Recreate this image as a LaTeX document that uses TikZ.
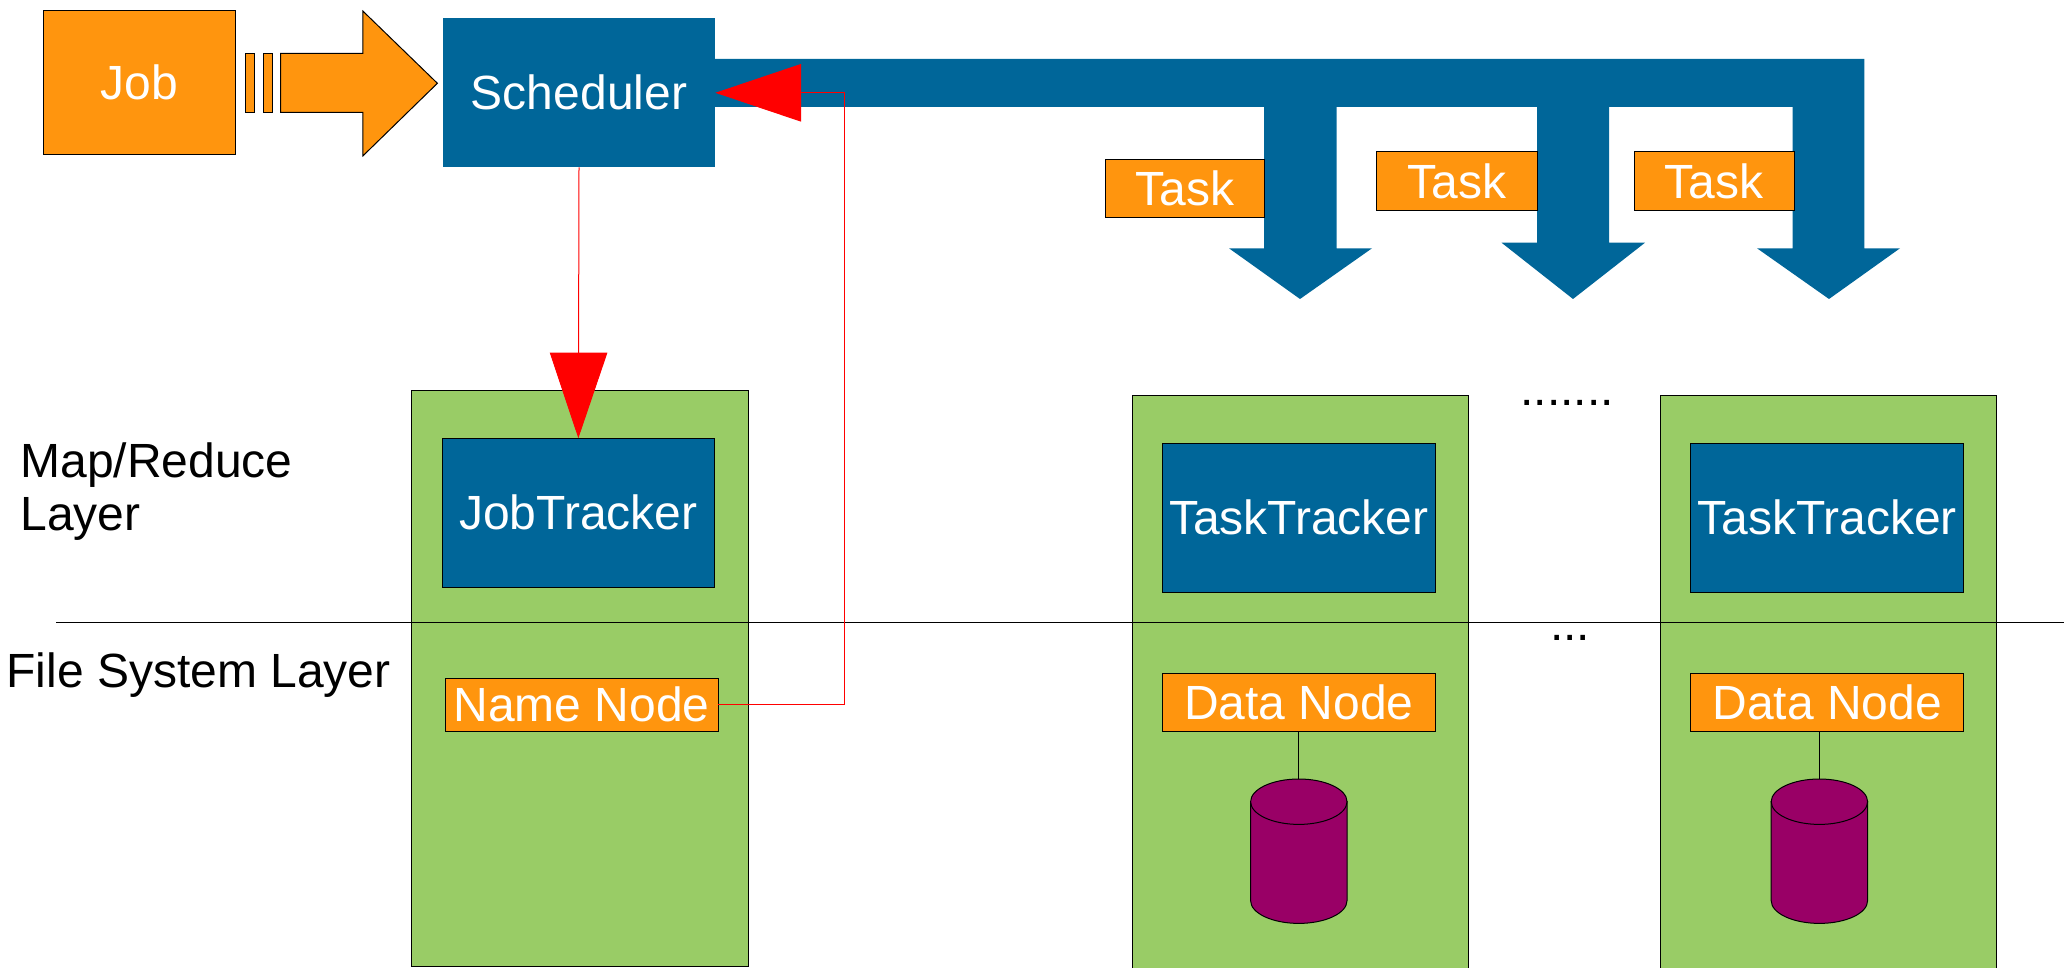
\documentclass[tikz,border=0pt]{standalone}
\usepackage{fontspec}
\setmainfont{Liberation Sans}
\usetikzlibrary{arrows.meta}
\definecolor{jobor}{HTML}{FF950E}
\definecolor{schedblue}{HTML}{006699}
\definecolor{hostgreen}{HTML}{99CC66}
\definecolor{drumpurple}{HTML}{990066}
\tikzset{
  x=1pt,y=-1pt,
  thinline/.style={line width=1pt},
  txt/.style={font=\fontsize{48}{53}\selectfont,inner sep=0pt,outer sep=0pt},
  labelled/.style={txt,text=white,text height=34pt,text depth=0pt,align=center,anchor=center},
  orangebox/.style={labelled,thinline,draw=black,fill=jobor},
  bluebox/.style={labelled,fill=schedblue},
  blueboxb/.style={labelled,thinline,draw=black,fill=schedblue},
  hostbox/.style={thinline,draw=black,fill=hostgreen,inner sep=0pt,outer sep=0pt},
  redlink/.style={line width=1pt,draw=red,-{Triangle[length=85.7pt,width=57.5pt,fill=red]}},
  drum/.pic={
    \draw[thinline,fill=drumpurple] (-48.2,0) -- (-48.2,99)
      .. controls (-48.2,111.5) and (-26.6,121.7) .. (0,121.7)
      .. controls (26.6,121.7) and (48.2,111.5) .. (48.2,99) -- (48.2,0) -- cycle;
    \draw[thinline,fill=drumpurple] (-48.2,0)
      .. controls (-48.2,-12.5) and (-26.6,-22.7) .. (0,-22.7)
      .. controls (26.6,-22.7) and (48.2,-12.5) .. (48.2,0)
      .. controls (48.2,12.5) and (26.6,22.7) .. (0,22.7)
      .. controls (-26.6,22.7) and (-48.2,12.5) .. (-48.2,0) -- cycle;
  }
}
\begin{document}
\begin{tikzpicture}
\useasboundingbox (0,0) rectangle (2064,968);
% host boxes
\node[hostbox,minimum width=336.4pt,minimum height=576.3pt] (hostA) at (579.8,678.15) {};
\node[hostbox,minimum width=336pt,minimum height=576pt] (hostB) at (1300,683) {};
\node[hostbox,minimum width=335.5pt,minimum height=576pt] (hostC) at (1828.25,683) {};
% job and its arrow
\node[orangebox,minimum width=192.5pt,minimum height=144.3pt] (job) at (139.25,82.85) {Job};
\draw[thinline,fill=jobor] (245.7,53.3) rectangle (254.5,112.3);
\draw[thinline,fill=jobor] (263.5,53.3) rectangle (272.5,112.3);
\draw[thinline,fill=jobor] (280.7,53.3) -- (362.8,53.3) -- (362.8,11) -- (437.4,83.3)
  -- (362.8,156) -- (362.8,112.3) -- (280.7,112.3) -- cycle;
% blue distribution arrows
\fill[schedblue] (715,59) -- (1864.4,59) -- (1864.4,248.3) -- (1900,248.3) -- (1829,299)
  -- (1757,248.3) -- (1792.6,248.3) -- (1792.6,107) -- (1609,107) -- (1609,242.7)
  -- (1645,242.7) -- (1573,299) -- (1501.5,242.7) -- (1537,242.7) -- (1537,107)
  -- (1336.5,107) -- (1336.5,248.3) -- (1372,248.3) -- (1300,299) -- (1229,248.3)
  -- (1264,248.3) -- (1264,107) -- (715,107) -- cycle;
% boxes
\node[bluebox,minimum width=272.7pt,minimum height=149pt] (sched) at (579,92.8) {Scheduler};
\node[orangebox,minimum width=159.7pt,minimum height=58.4pt] (taskA) at (1184.85,188.5) {Task};
\node[orangebox,minimum width=161pt,minimum height=58.3pt] (taskB) at (1457.15,181.15) {Task};
\node[orangebox,minimum width=160.5pt,minimum height=58.3pt] (taskC) at (1714.25,181.15) {Task};
\node[blueboxb,minimum width=272.7pt,minimum height=148.7pt] (jt) at (578.35,512.65) {JobTracker};
\node[blueboxb,minimum width=273.6pt,minimum height=148.7pt] (ttA) at (1298.8,517.65) {TaskTracker};
\node[blueboxb,minimum width=273pt,minimum height=148.7pt] (ttB) at (1827.1,517.65) {TaskTracker};
\node[orangebox,minimum width=273pt,minimum height=53pt] (nn) at (581.5,704.8) {Name Node};
\node[orangebox,minimum width=273.6pt,minimum height=58.3pt] (dnA) at (1298.8,702.15) {Data Node};
\node[orangebox,minimum width=273pt,minimum height=58.3pt] (dnB) at (1827.1,702.15) {Data Node};
% drums
\coordinate (drumAtop) at (1298.8,779);
\coordinate (drumBtop) at (1819.4,779);
\draw[thinline] (dnA.south) -- (drumAtop);
\draw[thinline] (dnB.south -| drumBtop) -- (drumBtop);
\pic at (1298.8,801.7) {drum};
\pic at (1819.4,801.7) {drum};
% layer rule
\coordinate (ruleL) at (56,622.3);
\coordinate (ruleR) at (2064,622.3);
\draw[thinline] (ruleL) -- (ruleR);
% red links
\coordinate (bendA) at (844.4,704.8);
\coordinate (bendB) at (844.4,92.8);
\draw[redlink] (sched.south) -- (jt.north);
\draw[redlink] (nn.east) -- (bendA) -- (bendB) -- (sched.east);
% free text
\node[txt,anchor=base west,align=left] (mr) at (20.5,530.5) {Map/Reduce\\Layer};
\node[txt,anchor=base west] (fs) at (6.5,687.7) {File System Layer};
\node[txt,anchor=base west] (dotsA) at (1520.6,405.7) {.......};
\node[txt,anchor=base west] (dotsB) at (1550,640) {...};
\end{tikzpicture}
\end{document}
